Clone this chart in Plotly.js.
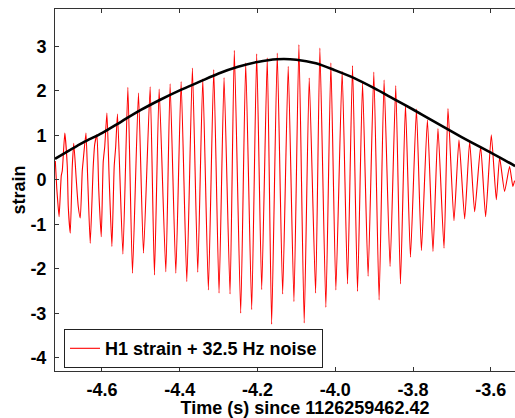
<!DOCTYPE html>
<html>
<head>
<meta charset="utf-8">
<script src="https://cdn.plot.ly/plotly-3.0.1.min.js"></script>
<style>
html, body { margin: 0; padding: 0; overflow: hidden; background: #fff; }
#chart { width: 555px; height: 418px; }
</style>
</head>
<body>
<div id="chart"></div>
<script>
// Red trace: H1 strain + 32.5 Hz noise
const strainTime = [
  -4.7199, -4.7161, -4.7140, -4.7102, -4.7045, -4.7020, -4.6955, -4.6891, -4.6866, -4.6814,
  -4.6763, -4.6724, -4.6660, -4.6609, -4.6557, -4.6506, -4.6480, -4.6411, -4.6365, -4.6301,
  -4.6224, -4.6185, -4.6129, -4.6083, -4.6018, -4.5967, -4.5928, -4.5872, -4.5813, -4.5744,
  -4.5685, -4.5646, -4.5600, -4.5461, -4.5333, -4.5215, -4.5061, -4.4932, -4.4760, -4.4650,
  -4.4529, -4.4357, -4.4247, -4.4100, -4.3964, -4.3818, -4.3674, -4.3536, -4.3407, -4.3263,
  -4.3125, -4.2989, -4.2860, -4.2706, -4.2596, -4.2432, -4.2303, -4.2149, -4.2021, -4.1892,
  -4.1749, -4.1636, -4.1492, -4.1353, -4.1210, -4.1063, -4.0935, -4.0799, -4.0670, -4.0506,
  -4.0396, -4.0242, -4.0113, -3.9985, -3.9823, -3.9685, -3.9556, -3.9428, -3.9299, -3.9156,
  -3.9009, -3.8873, -3.8745, -3.8591, -3.8445, -3.8324, -3.8195, -3.8067, -3.7913, -3.7785,
  -3.7631, -3.7487, -3.7359, -3.7204, -3.7102, -3.6948, -3.6819, -3.6673, -3.6545, -3.6416,
  -3.6262, -3.6134, -3.5988, -3.5859, -3.5774, -3.5646, -3.5518, -3.5433, -3.5389
];
const strainValue = [
   0.42, -0.20, -0.45, -0.83,  0.10,  0.20,  1.05,  0.30, -0.60, -1.20,
   0.30,  0.82,  0.00, -0.60, -0.86,  0.20,  0.45,  1.05,  0.00, -1.43,
   0.30,  0.80,  1.01, -0.20, -1.28,  0.40,  0.75,  1.50,  0.00, -1.50,
   0.30,  0.75,  1.48, -1.67,  2.08, -2.10,  1.95, -1.65,  2.09, -2.14,
   2.04, -2.07,  2.16, -2.10,  2.21, -2.29,  2.51, -2.08,  2.27, -2.48,
   2.48, -2.55,  2.30, -2.57,  2.91, -3.00,  2.63, -2.92,  2.83, -2.47,
   2.74, -3.25,  2.85, -2.57,  2.55, -2.74,  3.04, -3.22,  2.29, -2.55,
   2.96, -2.87,  2.63, -2.48,  2.44, -2.34,  2.57, -2.51,  2.18, -2.17,
   2.42, -2.70,  2.24, -1.95,  2.12, -2.34,  1.69, -1.74,  1.59, -1.59,
   1.35, -1.61,  1.15, -1.54,  1.60, -0.92,  0.90, -0.88,  0.86, -0.72,
   0.75, -0.83,  1.01, -0.45,  0.50, -0.26,  0.30, -0.15, -0.02
];

// Black envelope curve
const envTime = [
  -4.7207, -4.65, -4.60, -4.55, -4.50, -4.45, -4.40, -4.35, -4.30, -4.25,
  -4.20, -4.15, -4.10, -4.05, -4.00, -3.95, -3.90, -3.85, -3.80, -3.75,
  -3.70, -3.65, -3.60, -3.5376
];
const envValue = [
   0.47, 0.83, 1.05, 1.31, 1.57, 1.80, 2.01, 2.20, 2.39, 2.54,
   2.65, 2.71, 2.70, 2.62, 2.46, 2.28, 2.06, 1.82, 1.58, 1.33,
   1.08, 0.84, 0.61, 0.31
];

const xTicks = [-4.6, -4.4, -4.2, -4.0, -3.8, -3.6];
const xTickText = ['-4.6', '-4.4', '-4.2', '-4.0', '-3.8', '-3.6'];
const yTicks = [-4, -3, -2, -1, 0, 1, 2, 3];
const yTickText = ['-4', '-3', '-2', '-1', '0', '1', '2', '3'];

const legendLabel = 'H1 strain + 32.5 Hz noise';
const xTitle = 'Time (s) since 1126259462.42';
const yTitle = 'strain';

const boldFont = (size) => ({ family: 'Liberation Sans, Arial, sans-serif', size: size, color: '#000', weight: 'bold' });

const traces = [
  {
    x: strainTime, y: strainValue, type: 'scatter', mode: 'lines',
    name: legendLabel,
    line: { color: '#ff0000', width: 1.1, shape: 'spline', smoothing: 0.5 }
  },
  {
    x: envTime, y: envValue, type: 'scatter', mode: 'lines',
    name: 'envelope', showlegend: false,
    line: { color: '#000000', width: 2.6, shape: 'spline', smoothing: 0.8 }
  }
];

const layout = {
  width: 555, height: 418,
  margin: { l: 55, r: 0, t: 9, b: 47 },
  paper_bgcolor: '#fff', plot_bgcolor: '#fff',
  showlegend: true,
  legend: {
    x: 0.018, y: 0.008, xanchor: 'left', yanchor: 'bottom',
    bgcolor: '#fff', bordercolor: '#222', borderwidth: 1,
    entrywidth: 262,
    font: boldFont(18)
  },
  xaxis: {
    range: [-4.7207, -3.435],
    tickmode: 'array', tickvals: xTicks, ticktext: xTickText,
    ticks: 'inside', ticklen: 4, tickcolor: '#333',
    showline: true, linecolor: '#333', linewidth: 1, mirror: 'ticks',
    showgrid: false, zeroline: false,
    tickfont: boldFont(18), ticklabelstandoff: 2,
    title: { text: xTitle, font: boldFont(18), standoff: 2 }
  },
  yaxis: {
    range: [-4.30, 3.84],
    tickmode: 'array', tickvals: yTicks, ticktext: yTickText,
    ticks: 'inside', ticklen: 4, tickcolor: '#333',
    showline: true, linecolor: '#333', linewidth: 1, mirror: 'ticks',
    showgrid: false, zeroline: false, automargin: true,
    tickfont: boldFont(18), ticklabelstandoff: 4,
    title: { text: yTitle, font: boldFont(18), standoff: 0 }
  }
};

Plotly.newPlot('chart', traces, layout, { displayModeBar: false, staticPlot: true });
</script>
</body>
</html>
